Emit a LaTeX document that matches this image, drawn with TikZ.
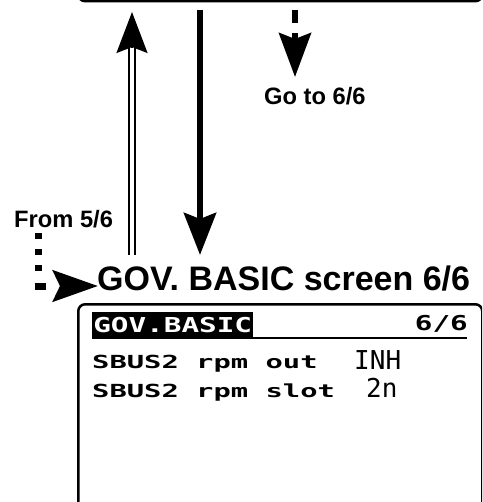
\documentclass[tikz,border=0pt]{standalone}
\usepackage{fontspec}
\setmainfont{Liberation Sans}
\newfontfamily\lcdA[FakeStretch=1.43]{DejaVu Sans Mono Bold}
\newfontfamily\lcdB[FakeStretch=1.6]{DejaVu Sans Mono Bold}
\newfontfamily\lcdC{DejaVu Sans Mono}
\usetikzlibrary{arrows.meta,calc}
\tikzset{
  screen/.style={draw=black, line width=2.5pt, rounded corners=7pt},
  biglabel/.style={inner sep=0pt, anchor=base west, font=\fontsize{23.7}{24}\selectfont\bfseries},
  titlelabel/.style={inner sep=0pt, anchor=base west, font=\fontsize{34}{35}\selectfont\bfseries},
  lcdbody/.style={inner sep=0pt, anchor=base west, font=\lcdB\fontsize{18}{18}\selectfont},
  lcdval/.style={inner sep=0pt, anchor=base west, font=\lcdC\fontsize{26}{26}\selectfont},
  tiphead/.style={-{Stealth[length=41pt,width=31pt,inset=6pt]}},
}
\begin{document}
\begin{tikzpicture}[x=1pt,y=-1pt]
\useasboundingbox (0,0) rectangle (482,502);
\clip (0,0) rectangle (482,502);
% top screen (cut off)
\node[screen, anchor=south west, minimum width=404pt, minimum height=40pt, inner sep=0pt] (topscreen) at (77,2.5) {};
% bottom screen
\node[screen, anchor=north west, minimum width=404pt, minimum height=230pt, inner sep=0pt] (botscreen) at (77,303) {};
% arrow endpoints
\coordinate (upbot) at (132,255);
\coordinate (uptip) at (132,12);
\coordinate (upbase) at (132,48);
\coordinate (downtop) at (200,10);
\coordinate (downtip) at (200,255);
\coordinate (gotop) at (295,10);
\coordinate (gotip) at (295,77);
\coordinate (fromtop) at (38,233);
\coordinate (fromvend) at (38,280);
\coordinate (fromcorner) at (34.5,286);
\coordinate (fromtip) at (98,286);
% up double arrow
\draw[line width=1.9pt, double distance=3.8pt] (upbot) -- (upbase);
\draw[line width=2pt, tiphead] (upbase) -- (uptip);
% down thick arrow
\draw[line width=6.5pt, -{Stealth[length=42pt,width=32pt,inset=6pt]}] (downtop) -- (downtip);
% dashed go-to arrow
\draw[line width=5.5pt, dash pattern=on 13pt off 10pt, -{Stealth[length=44pt,width=32pt,inset=6pt]}] (gotop) -- (gotip);
% dotted from arrow
\draw[line width=7pt, dash pattern=on 6pt off 10pt] (fromtop) -- (fromvend);
\draw[line width=7pt, dash pattern=on 11pt off 60pt, -{Stealth[length=45pt,width=31pt,inset=7pt]}] (fromcorner) -- (fromtip);
% labels
\node[biglabel] (goto) at (264,105) {Go to 6/6};
\node[biglabel] (from) at (14,227) {From 5/6};
\node[titlelabel] (title) at (97,290) {GOV. BASIC screen 6/6};
% LCD contents
\node[fill=black, text=white, anchor=north west, minimum width=161pt, minimum height=25pt, inner sep=0pt, font=\lcdA\fontsize{20.5}{20.5}\selectfont] (hdr) at (92,312) {GOV.BASIC};
\coordinate (ulstart) at (92,337.5);
\coordinate (ulend) at (467,337.5);
\draw[line width=2pt] (ulstart) -- (ulend);
\node[inner sep=0pt, anchor=base east, font=\lcdA\fontsize{20.5}{20.5}\selectfont] (page) at (468,330) {6/6};
\node[lcdbody] (row1) at (92,368) {SBUS2 rpm out};
\node[lcdval] (row1v) at (354,369) {INH};
\node[lcdbody] (row2) at (92,397) {SBUS2 rpm slot};
\node[lcdval] (row2v) at (366,397) {2n};
\end{tikzpicture}
\end{document}
